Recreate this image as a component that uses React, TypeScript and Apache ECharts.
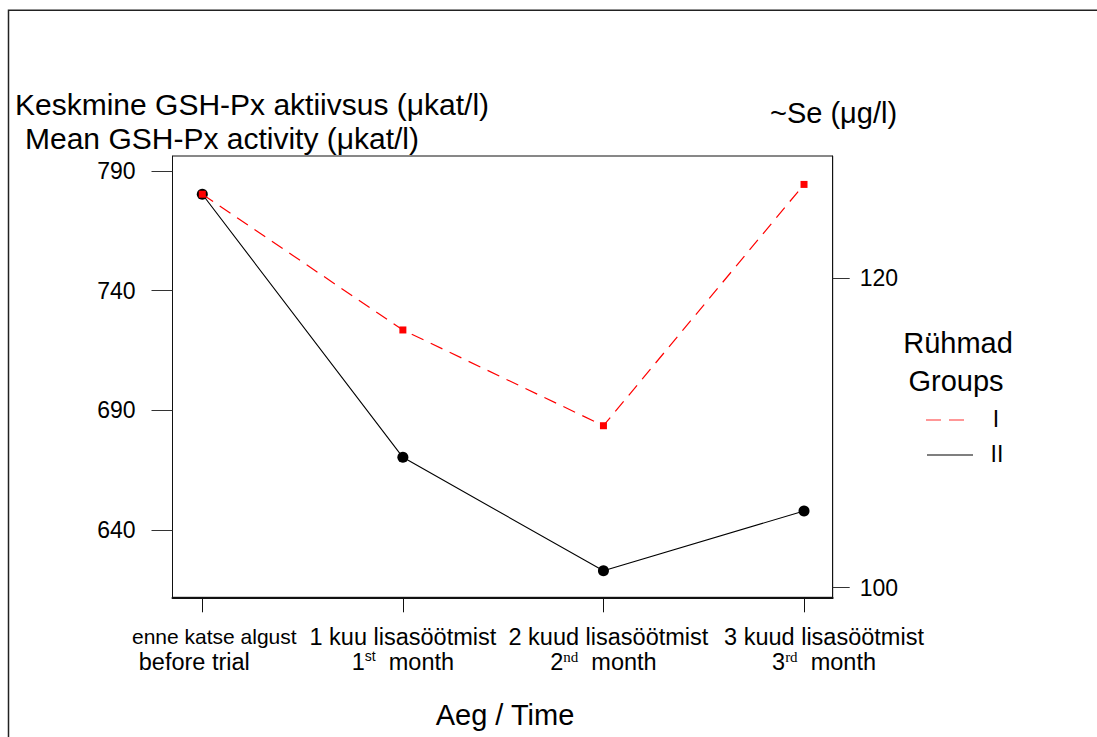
import React, { useEffect, useRef } from "react";
import * as echarts from "echarts";

const catLine1 = ["enne katse algust", "1 kuu lisasöötmist", "2 kuud lisasöötmist", "3 kuud lisasöötmist"];
const catLine2 = ["before trial", "month", "month", "month"];
const catNum = ["", "1", "2", "3"];
const catSup = ["", "st", "nd", "rd"];
const catIndex = [0, 1, 2, 3];

const groupI = [780.3, 723.6, 683.6, 784.4];
const groupII = [780.3, 670.4, 623.0, 648.0];

const leftTicks = [640, 690, 740, 790];
const rightTicks = [100, 120];

const FONT = "'Liberation Sans', Arial, Helvetica, sans-serif";
const SERIF = "'Liberation Serif', 'Times New Roman', serif";

export default function App() {
  const ref = useRef<HTMLDivElement>(null);
  useEffect(() => {
    if (!ref.current) return;
    const chart = echarts.init(ref.current, null, { renderer: "svg" });
    const base = { fontSize: 23.5, fontFamily: FONT, color: "#000", lineHeight: 25 };
    const labelFormatter = (v: number) => {
      const i = Math.round(v);
      if (i === 0) return `{f1|${catLine1[0]}}\n{f2|${catLine2[0]}}`;
      const sup = i === 1 ? "s" : "t";
      const l1 = i === 3 ? "p4" : i === 2 ? "p3" : "a";
      const l2 = i === 3 ? "p4" : "a";
      return `{${l1}|${catLine1[i]}}\n{${l2}|${catNum[i]}}{${sup}|${catSup[i]}}{a|  ${catLine2[i]}}`;
    };
    const rich = {
      a: { ...base },
      f1: { ...base, fontSize: 21, padding: [0, 0, 0, 24] },
      f2: { ...base, padding: [0, 16, 0, 0] },
      p3: { ...base, padding: [0, 0, 0, 10] },
      p4: { ...base, padding: [0, 0, 0, 40] },
      s: { fontSize: 14, fontFamily: FONT, color: "#000", verticalAlign: "top", lineHeight: 25, padding: [0, 0, 10, 0] },
      t: { fontSize: 15, fontFamily: SERIF, color: "#000", verticalAlign: "top", lineHeight: 25, padding: [0, 0, 10, 0] },
    };
    const xLabel = (vals: number[]) => ({
      customValues: vals,
      hideOverlap: false,
      showMinLabel: true,
      showMaxLabel: true,
      margin: 27,
      color: "#000",
      fontSize: 23.5,
      fontFamily: FONT,
      formatter: labelFormatter,
      rich,
    });
    const option: any = {
      animation: false,
      backgroundColor: "#fff",
      textStyle: { fontFamily: FONT },
      grid: {
        left: 172.5,
        top: 156,
        right: 1097 - 832.7,
        bottom: 737 - 597.3,
        show: true,
        borderColor: "#111",
        borderWidth: 1,
        backgroundColor: "transparent",
      },
      xAxis: [
        {
          type: "value",
          position: "bottom",
          min: -0.1486,
          max: 3.143,
          axisLine: { show: true, onZero: false, lineStyle: { color: "#111", width: 2 } },
          axisTick: { show: true, length: 15, customValues: catIndex, lineStyle: { color: "#111", width: 1 } },
          splitLine: { show: false },
          axisLabel: xLabel([0, 2]),
        },
        {
          type: "value",
          position: "bottom",
          offset: 0,
          min: -0.1486,
          max: 3.143,
          axisLine: { show: false, onZero: false },
          axisTick: { show: false },
          splitLine: { show: false },
          axisLabel: xLabel([1, 3]),
        },
      ],
      yAxis: [
        {
          type: "value",
          position: "left",
          min: 611.93,
          max: 796.27,
          axisLine: { show: true, onZero: false, lineStyle: { color: "#111", width: 1 } },
          axisTick: { show: true, length: 21, customValues: leftTicks, lineStyle: { color: "#333", width: 1 } },
          axisLabel: { customValues: leftTicks, margin: 37, color: "#000", fontSize: 23, fontFamily: FONT },
          splitLine: { show: false },
        },
        {
          type: "value",
          position: "right",
          min: 99.38,
          max: 127.9,
          axisLine: { show: true, onZero: false, lineStyle: { color: "#111", width: 1 } },
          axisTick: { show: true, length: 17, customValues: rightTicks, lineStyle: { color: "#333", width: 1 } },
          axisLabel: { customValues: rightTicks, margin: 27, color: "#000", fontSize: 23, fontFamily: FONT },
          splitLine: { show: false },
        },
      ],
      series: [
        {
          name: "II",
          type: "line",
          xAxisIndex: 0,
          yAxisIndex: 0,
          data: catIndex.map((x, i) => [x, groupII[i]]),
          symbol: "circle",
          symbolSize: 11,
          itemStyle: { color: "#000" },
          lineStyle: { color: "#000", width: 1.1 },
          z: 2,
        },
        {
          name: "I",
          type: "line",
          xAxisIndex: 0,
          yAxisIndex: 0,
          data: catIndex.map((x, i) => [x, groupI[i]]),
          symbol: "rect",
          symbolSize: 7,
          itemStyle: { color: "#ff0000" },
          lineStyle: { color: "#ff0000", width: 1.2, type: [13, 8] },
          z: 3,
        },
      ],
      graphic: [
        {
          type: "rect",
          shape: { x: 8.5, y: 10.3, width: 1200, height: 800 },
          style: { fill: "none", stroke: "#222", lineWidth: 1.5 },
          silent: true,
        },
        {
          type: "text",
          x: 15,
          y: 104,
          style: { text: "Keskmine GSH-Px aktiivsus (μkat/l)", fontSize: 30, fontFamily: FONT, fill: "#000", textAlign: "left", textVerticalAlign: "middle" },
        },
        {
          type: "text",
          x: 25,
          y: 138,
          style: { text: "Mean GSH-Px activity (μkat/l)", fontSize: 30, fontFamily: FONT, fill: "#000", textAlign: "left", textVerticalAlign: "middle" },
        },
        {
          type: "text",
          x: 770,
          y: 113,
          style: { text: "~Se (μg/l)", fontSize: 29, fontFamily: FONT, fill: "#000", textAlign: "left", textVerticalAlign: "middle" },
        },
        {
          type: "text",
          x: 505,
          y: 715,
          style: { text: "Aeg / Time", fontSize: 29, fontFamily: FONT, fill: "#000", textAlign: "center", textVerticalAlign: "middle" },
        },
        {
          type: "text",
          x: 958,
          y: 343,
          style: { text: "Rühmad", fontSize: 29, fontFamily: FONT, fill: "#000", textAlign: "center", textVerticalAlign: "middle" },
        },
        {
          type: "text",
          x: 956,
          y: 381,
          style: { text: "Groups", fontSize: 29, fontFamily: FONT, fill: "#000", textAlign: "center", textVerticalAlign: "middle" },
        },
        {
          type: "line",
          shape: { x1: 926, y1: 420, x2: 965, y2: 420 },
          style: { stroke: "#ff3030", lineWidth: 1.2, lineDash: [15, 8] },
        },
        {
          type: "text",
          x: 996,
          y: 419,
          style: { text: "I", fontSize: 23, fontFamily: FONT, fill: "#000", textAlign: "center", textVerticalAlign: "middle" },
        },
        {
          type: "line",
          shape: { x1: 927, y1: 455, x2: 973, y2: 455 },
          style: { stroke: "#000", lineWidth: 1.2 },
        },
        {
          type: "text",
          x: 997,
          y: 454,
          style: { text: "II", fontSize: 23, fontFamily: FONT, fill: "#000", textAlign: "center", textVerticalAlign: "middle" },
        },
      ],
    };
    chart.setOption(option);
    return () => chart.dispose();
  }, []);
  return (
    <div
      ref={ref}
      style={{ position: "absolute", left: 0, top: 0, width: 1097, height: 737, background: "#fff" }}
    />
  );
}
